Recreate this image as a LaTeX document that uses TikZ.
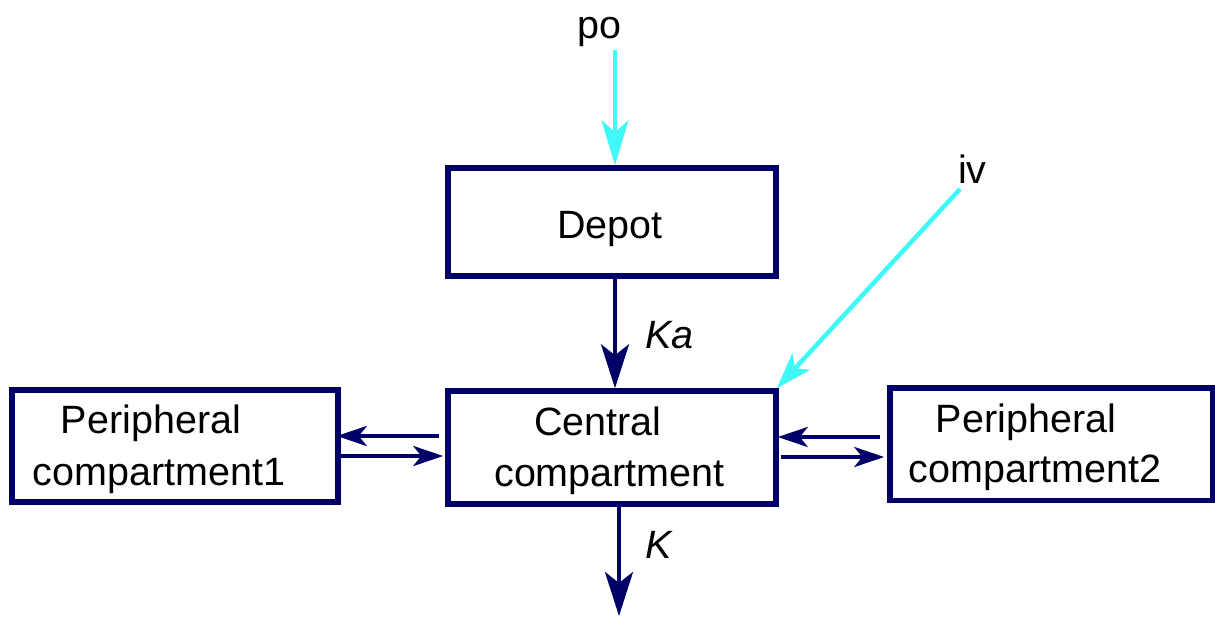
\documentclass[tikz,border=0pt]{standalone}
\usepackage{fontspec}
\setmainfont{Liberation Sans}
\usetikzlibrary{arrows.meta}
\definecolor{boxnavy}{HTML}{000066}
\definecolor{doseaqua}{HTML}{40F8F8}
\tikzset{
  compbox/.style={draw=boxnavy, line width=5.5pt, inner sep=0pt},
  txt/.style={anchor=base, inner sep=0pt, font=\fontsize{39.5}{52}\selectfont},
  ratelbl/.style={anchor=base west, inner sep=0pt, font=\fontsize{39.5}{52}\selectfont\itshape},
  flow/.style={draw=boxnavy, line width=4pt,
    -{Stealth[length=44pt, width=28pt, inset=11pt]}},
  exch/.style={draw=boxnavy, line width=4pt,
    -{Stealth[length=30pt, width=20pt, inset=8pt]}},
  dose/.style={draw=doseaqua, line width=4.5pt,
    -{Stealth[length=45pt, width=27pt, inset=12pt]}},
  ivdose/.style={draw=doseaqua, line width=4.5pt,
    -{Stealth[length=36pt, width=24pt, inset=9pt]}},
}
\begin{document}
\begin{tikzpicture}[x=1pt, y=-1pt]
  \useasboundingbox (0,0) rectangle (1215,616);

  % compartments
  \node[compbox, minimum width=328pt, minimum height=108pt] (depot) at (612,222) {};
  \node[compbox, minimum width=328pt, minimum height=113pt] (central) at (612,447.5) {};
  \node[compbox, minimum width=326pt, minimum height=112pt] (per1) at (175,446) {};
  \node[compbox, minimum width=323pt, minimum height=112.5pt] (per2) at (1051.5,444) {};

  % compartment names
  \node[txt] (depotT) at (610,238) {Depot};
  \node[txt] (centralT1) at (598,435) {Central};
  \node[txt] (centralT2) at (609.5,486) {compartment};
  \node[txt] (per1T1) at (151,433) {Peripheral};
  \node[txt] (per1T2) at (159,485) {compartment1};
  \node[txt] (per2T1) at (1026,432) {Peripheral};
  \node[txt] (per2T2) at (1035,482) {compartment2};

  % dosing routes
  \node[txt] (po) at (599,38) {po};
  \node[txt, anchor=base west] (iv) at (958,183) {iv};
  \coordinate (poStart) at (615,50);
  \coordinate (ivStart) at (960,189);
  \draw[dose] (poStart) -- (poStart |- depot.north);
  \draw[ivdose] (ivStart) -- ([xshift=-2pt]central.north east);

  % absorption and elimination
  \coordinate (kaX) at (615,0);
  \coordinate (kX) at (619,0);
  \coordinate (elimEnd) at (619,616);
  \draw[flow] (depot.south -| kaX) -- (central.north -| kaX);
  \draw[flow] (central.south -| kX) -- (elimEnd);
  \node[ratelbl] (ka) at (645,348) {Ka};
  \node[ratelbl] (k) at (645,558) {K};

  % distribution to and from the peripheral compartments
  \coordinate (upY) at (0,436);
  \coordinate (loY) at (0,456);
  \coordinate (upYr) at (0,437);
  \coordinate (loYr) at (0,457);
  \draw[exch] ([xshift=-6pt]central.west |- upY) -- ([xshift=-4pt]per1.east |- upY);
  \draw[exch] ([xshift=-6pt]per1.east |- loY) -- ([xshift=-2pt]central.west |- loY);
  \draw[exch] ([xshift=-7pt]per2.west |- upYr) -- ([xshift=-1pt]central.east |- upYr);
  \draw[exch] ([xshift=2pt]central.east |- loYr) -- ([xshift=-3pt]per2.west |- loYr);
\end{tikzpicture}
\end{document}
